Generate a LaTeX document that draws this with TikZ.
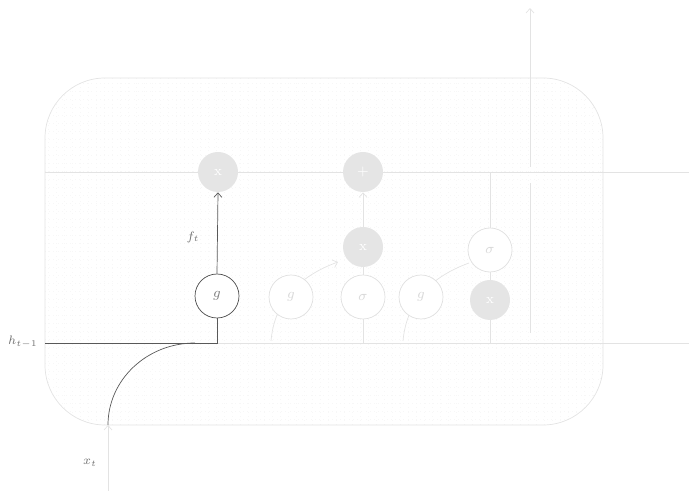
\documentclass[tikz,border=0pt]{standalone}
\usepackage{amsmath}
\usepackage{tikz}
\usetikzlibrary{arrows.meta,positioning,calc}

\begin{document}
\begin{tikzpicture}[
    faint/.style={draw=black!11, line width=0.4pt},
    dark/.style={draw=black!65, line width=0.4pt},
    op/.style={circle, fill=black!10, text=white, minimum size=0.8cm, inner sep=0pt, font=\footnotesize},
    gate/.style={circle, draw=black!12, line width=0.4pt, fill=white, text=black!15, minimum size=0.88cm, inner sep=0pt, font=\footnotesize},
    active/.style={circle, draw=black!70, line width=0.4pt, fill=white, text=black!50, minimum size=0.88cm, inner sep=0pt, font=\footnotesize},
    lbl/.style={text=black!55, font=\scriptsize},
    >={Straight Barb[length=0.9mm,width=1.6mm]}
]
\useasboundingbox (0,0) rectangle (13.78,9.82);

% cell frame with dotted background
\begin{scope}
\clip[rounded corners=1.2cm] (0.9,1.32) rectangle (12.06,8.26);
\draw[step=0.16, black!3, dotted] (0.9,1.32) grid (12.06,8.26);
\end{scope}
\draw[faint, rounded corners=1.2cm] (0.9,1.32) rectangle (12.06,8.26);

% end points
\coordinate (cin)   at (0.9,6.38);
\coordinate (cout)  at (13.78,6.38);
\coordinate (hin)   at (0.9,2.96);
\coordinate (hjoin) at (4.34,2.96);
\coordinate (hout)  at (13.9,2.96);
\coordinate (xin)   at (2.16,0);
\coordinate (xtop)  at (2.16,1.32);
\coordinate (g2in)  at (5.42,3.0);
\coordinate (g3in)  at (8.06,3.0);
\coordinate (s1bot) at (7.26,2.96);
\coordinate (s2top) at (9.8,6.38);
\coordinate (x3bot) at (9.8,2.96);
\coordinate (ylo)   at (10.6,3.16);
\coordinate (ymid)  at (10.6,6.16);
\coordinate (yup)   at (10.6,6.48);
\coordinate (yout)  at (10.6,9.66);

% state lines
\draw[faint] (cin) -- (cout);
\draw[faint, ->] (hjoin) -- (hout);

% gate curves (under the nodes)
\draw[faint, ->] (g2in) to[out=85, in=200] (7.26-0.5,4.88-0.3);
\draw[faint] (g3in) to[out=85, in=200] (9.8-0.42,4.82-0.26);

% operations
\node[op] (x1) at (4.36,6.38) {x};
\node[op] (plus) at (7.26,6.38) {+};
\node[op] (x2) at (7.26,4.88) {x};
\node[op] (x3) at (9.8,3.82) {x};

% gates
\node[active] (g1) at (4.34,3.9) {$g$};
\node[gate] (g2) at (5.82,3.88) {$g$};
\node[gate] (s1) at (7.26,3.88) {$\sigma$};
\node[gate] (g3) at (8.42,3.88) {$g$};
\node[gate] (s2) at (9.8,4.82) {$\sigma$};

% active path
\draw[dark] (hin) -- (hjoin) -- (g1.south);
\draw[dark, ->] (g1.north) -- (x1.south);
\draw[faint, ->] (xin) -- (xtop);
\draw[dark] (xtop) arc[start angle=180, end angle=90, x radius=1.74, y radius=1.64];

% faint connections
\draw[faint] (s1bot) -- (s1.south);
\draw[faint] (s1.north) -- (x2.south);
\draw[faint, ->] (x2.north) -- (plus.south);
\draw[faint] (s2top) -- (s2.north);
\draw[faint] (s2.south) -- (x3.north);
\draw[faint] (x3.south) -- (x3bot);
\draw[faint] (ylo) -- (ymid);
\draw[faint, ->] (yup) -- (yout);

% labels
\node[lbl] (hlbl) at (0.46,2.98) {$h_{t-1}$};
\node[lbl] (flbl) at (3.86,5.08) {$f_t$};
\node[lbl] (xlbl) at (1.8,0.56) {$x_t$};

\end{tikzpicture}
\end{document}
